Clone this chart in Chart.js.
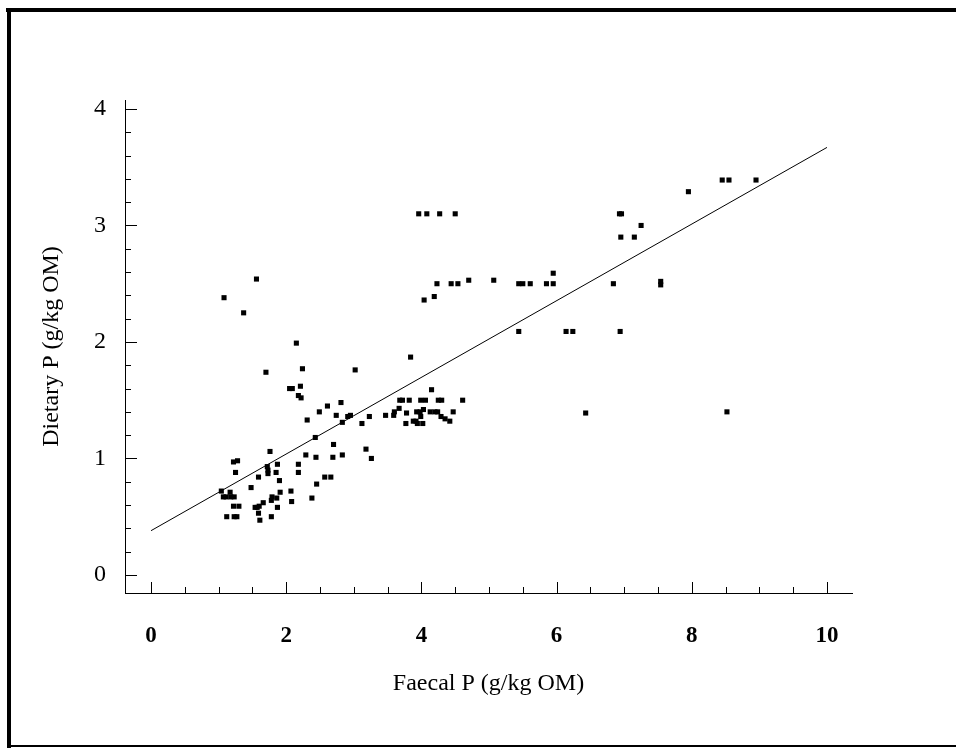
<!DOCTYPE html>
<html>
<head>
<meta charset="utf-8">
<script src="https://cdn.jsdelivr.net/npm/chart.js@4.4.1/dist/chart.umd.min.js"></script>
<style>
  html, body { margin: 0; padding: 0; background: #fff; }
  body { width: 956px; height: 756px; position: relative; overflow: hidden; }
  #wrap { position: absolute; left: 0; top: 0; width: 956px; height: 756px; }
  .fr { position: absolute; background: #000; }
</style>
</head>
<body>
<div class="fr" style="left:6px;top:8px;width:950px;height:4px;"></div>
<div class="fr" style="left:7px;top:8px;width:4px;height:740px;"></div>
<div class="fr" style="left:7px;top:745px;width:949px;height:2px;"></div>
<div id="wrap"><canvas id="c" width="956" height="756"></canvas></div>
<script>
// Faecal P (g/kg OM)
const faecalP = [
  1.08,1.56,1.37,2.15,1.70,2.24,3.02,2.05,2.09,2.21,2.18,2.22,2.49,2.61,2.81,2.31,2.74,2.91,2.95,2.83,
  3.12,3.23,3.47,3.59,3.60,3.67,2.43,1.76,2.70,3.18,2.29,2.44,2.69,2.83,3.26,1.22,1.28,1.25,1.59,1.72,
  1.73,1.73,1.87,1.85,2.18,2.18,1.90,1.48,1.04,1.07,1.11,1.17,1.18,1.23,1.91,2.07,2.08,1.79,1.86,1.66,
  1.78,1.87,1.54,1.57,1.60,1.22,1.30,1.59,1.61,1.78,1.12,1.23,1.27,2.57,2.66,2.45,2.38,
  3.96,4.08,4.27,4.50,4.23,4.44,4.54,4.70,5.07,5.44,4.04,4.19,3.84,5.44,4.15,
  3.68,3.72,3.82,3.99,4.06,4.25,4.30,4.61,3.78,3.93,3.98,4.03,4.13,4.20,3.99,3.77,3.88,3.92,3.94,4.02,
  4.29,4.35,4.42,4.47,4.24,
  7.95,8.45,8.55,8.95,6.93,6.96,7.25,6.95,7.15,5.95,5.50,5.61,5.85,5.95,6.84,7.54,7.54,6.14,6.24,6.94,
  6.43,8.52
];
// Dietary P (g/kg OM)
const dietaryP = [
  2.38,2.54,2.25,1.99,1.74,1.77,1.76,1.60,1.60,1.62,1.54,1.52,1.40,1.45,1.48,1.33,1.37,1.36,1.37,1.31,
  1.30,1.36,1.37,1.37,1.40,1.43,1.18,1.06,1.12,1.08,1.03,1.01,1.01,1.03,1.00,0.97,0.98,0.88,0.84,0.93,
  0.90,0.87,0.95,0.88,0.95,0.88,0.81,0.75,0.72,0.67,0.67,0.71,0.67,0.67,0.71,0.72,0.63,0.67,0.66,0.62,
  0.64,0.58,0.58,0.58,0.59,0.59,0.59,0.53,0.47,0.50,0.50,0.50,0.50,0.84,0.84,0.78,0.66,
  3.10,3.10,3.10,3.10,2.50,2.50,2.50,2.53,2.53,2.50,2.36,2.39,1.87,2.09,1.59,
  1.50,1.50,1.50,1.50,1.50,1.50,1.50,1.50,1.39,1.40,1.40,1.42,1.40,1.40,1.36,1.30,1.32,1.32,1.30,1.30,
  1.36,1.34,1.32,1.40,1.40,
  3.29,3.39,3.39,3.39,3.10,3.10,3.00,2.90,2.90,2.59,2.50,2.50,2.50,2.50,2.50,2.52,2.49,2.09,2.09,2.09,
  1.39,1.40
];
// Regression line end points
const fitX = [0, 10];
const fitY = [0.38, 3.67];
// Tick labels
const xTickLabels = [0, 2, 4, 6, 8, 10];
const yTickLabels = [0, 1, 2, 3, 4];
const xMinorStep = 0.5;
const yMinorStep = 0.2;

const points = faecalP.map((x, i) => ({ x: x, y: dietaryP[i] }));
const fitLine = fitX.map((x, i) => ({ x: x, y: fitY[i] }));

const serif = "'Liberation Serif', 'DejaVu Serif', serif";

const innerTicks = {
  id: 'innerTicks',
  afterDraw(chart) {
    const ctx = chart.ctx;
    const xs = chart.scales.x, ys = chart.scales.y;
    ctx.save();
    ctx.strokeStyle = '#000';
    ctx.lineWidth = 1;
    const y0 = ys.bottom;
    const xMax = xTickLabels[xTickLabels.length - 1];
    for (let v = xTickLabels[0]; v <= xMax + 1e-9; v += xMinorStep) {
      const px = Math.round(xs.getPixelForValue(v)) + 0.5;
      const major = xTickLabels.some(t => Math.abs(t - v) < 1e-6);
      ctx.beginPath();
      ctx.moveTo(px, y0);
      ctx.lineTo(px, y0 - (major ? 11 : 6));
      ctx.stroke();
    }
    const x0 = xs.left;
    const yMax = yTickLabels[yTickLabels.length - 1];
    for (let v = yTickLabels[0]; v <= yMax + 1e-9; v += yMinorStep) {
      const py = Math.round(ys.getPixelForValue(v)) + 0.5;
      const major = yTickLabels.some(t => Math.abs(t - v) < 1e-6);
      ctx.beginPath();
      ctx.moveTo(x0, py);
      ctx.lineTo(x0 + (major ? 12 : 6), py);
      ctx.stroke();
    }
    ctx.restore();
  }
};

new Chart(document.getElementById('c'), {
  type: 'scatter',
  data: {
    datasets: [
      {
        label: 'Observations',
        data: points,
        pointStyle: 'rect',
        pointRadius: 3.6,
        pointBorderWidth: 0,
        backgroundColor: '#000',
        borderColor: '#000',
        order: 1
      },
      {
        label: 'Fit',
        type: 'line',
        data: fitLine,
        showLine: true,
        borderColor: '#000',
        borderWidth: 1,
        pointRadius: 0,
        fill: false,
        order: 2
      }
    ]
  },
  options: {
    responsive: false,
    animation: false,
    devicePixelRatio: 1,
    layout: { padding: { left: 0, top: 100, right: 104, bottom: 0 } },
    plugins: { legend: { display: false }, tooltip: { enabled: false } },
    scales: {
      x: {
        type: 'linear',
        min: -0.385,
        max: 10.37,
        afterFit: s => { s.height = 163; },
        afterBuildTicks: s => { s.ticks = xTickLabels.map(v => ({ value: v })); },
        grid: { display: false, drawTicks: false },
        border: { display: true, color: '#000', width: 1 },
        ticks: {
          padding: 29,
          color: '#000',
          font: { family: serif, size: 23, weight: 'bold' },
          maxRotation: 0
        },
        title: {
          display: true,
          text: 'Faecal P (g/kg OM)',
          color: '#000',
          font: { family: serif, size: 24 },
          padding: { top: 0, bottom: 58 }
        }
      },
      y: {
        type: 'linear',
        min: -0.155,
        max: 4.077,
        afterFit: s => { s.width = 125; },
        afterBuildTicks: s => { s.ticks = yTickLabels.map(v => ({ value: v })); },
        grid: { display: false, drawTicks: false },
        border: { display: true, color: '#000', width: 1 },
        ticks: {
          padding: 19,
          color: '#000',
          font: { family: serif, size: 24 }
        },
        title: {
          display: true,
          text: 'Dietary P (g/kg OM)',
          color: '#000',
          font: { family: serif, size: 24 },
          padding: { top: 37, bottom: 0 }
        }
      }
    }
  },
  plugins: [innerTicks]
});
</script>
</body>
</html>
